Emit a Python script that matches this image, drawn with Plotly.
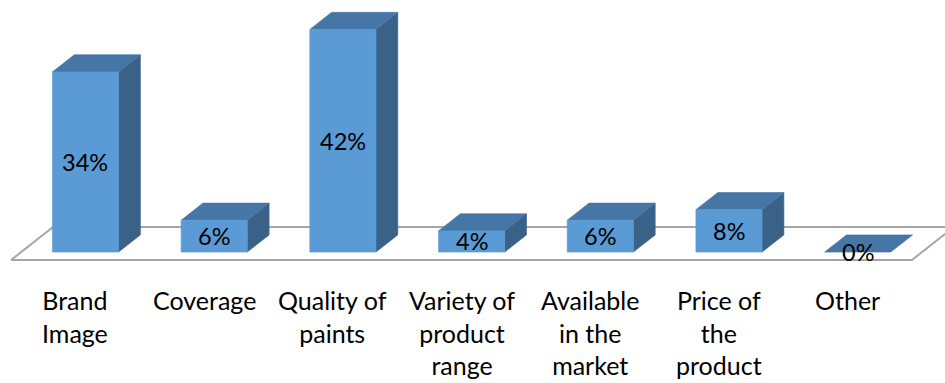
import plotly.graph_objects as go

categories = ["Brand<br>Image", "Coverage", "Quality of<br>paints", "Variety of<br>product<br>range",
              "Available<br>in the<br>market", "Price of<br>the<br>product", "Other"]
values = [34, 6, 42, 4, 6, 8, 0]
value_labels = ["34%", "6%", "42%", "4%", "6%", "8%", "0%"]

FRONT = "#5B9BD5"
TOP = "#4676A6"
SIDE = "#3A6289"
FLOOR_LINE = "#A6A6A6"

# projection parameters (depth offsets in axis units)
DX = 0.3263   # x shift for full floor depth
DY = 6.226    # y shift (in %) for full floor depth
Z0, Z1 = 0.24, 0.76
W = 0.257

def proj(x, z, h):
    return x + z * DX, h + z * DY

fig = go.Figure()

def poly(pts, fill, line_color=None, line_width=0.6):
    xs = [p[0] for p in pts] + [pts[0][0]]
    ys = [p[1] for p in pts] + [pts[0][1]]
    fig.add_trace(go.Scatter(x=xs, y=ys, mode="lines", fill="toself", fillcolor=fill,
                             line=dict(color=line_color or fill, width=line_width),
                             hoverinfo="skip", showlegend=False))

# floor
n = len(categories)
floor = [proj(-0.5, 0, 0), proj(n - 0.5, 0, 0), proj(n - 0.5, 1, 0), proj(-0.5, 1, 0)]
poly(floor, "white", FLOOR_LINE, 2)

for i, v in enumerate(values):
    xl, xr = i - W, i + W
    # side
    if v > 0:
        poly([proj(xr, Z0, 0), proj(xr, Z1, 0), proj(xr, Z1, v), proj(xr, Z0, v)], SIDE)
    # top
    poly([proj(xl, Z0, v), proj(xr, Z0, v), proj(xr, Z1, v), proj(xl, Z1, v)], TOP)
    # front
    if v > 0:
        poly([proj(xl, Z0, 0), proj(xr, Z0, 0), proj(xr, Z0, v), proj(xl, Z0, v)], FRONT)

annotations = []
FONT = "Lato"
for i, (v, lab) in enumerate(zip(values, value_labels)):
    cx, cy = proj(i, Z0, v / 2)
    annotations.append(dict(x=cx, y=cy, xref="x", yref="y", text=lab, showarrow=False,
                            xanchor="center", yanchor="middle",
                            font=dict(family=FONT, size=23.5, color="black")))
for i, c in enumerate(categories):
    annotations.append(dict(x=i, y=-4.35, xref="x", yref="y", text=c, showarrow=False,
                            xanchor="center", yanchor="top", align="center",
                            font=dict(family=FONT, size=25, color="black")))

fig.update_layout(
    width=945, height=383,
    margin=dict(l=0, r=0, t=0, b=0),
    paper_bgcolor="white", plot_bgcolor="white",
    xaxis=dict(range=[-0.5859, 6.7568], visible=False, fixedrange=True),
    yaxis=dict(range=[-23.21, 49.06], visible=False, fixedrange=True),
    annotations=annotations,
    showlegend=False,
)

fig.write_html("out.html")
